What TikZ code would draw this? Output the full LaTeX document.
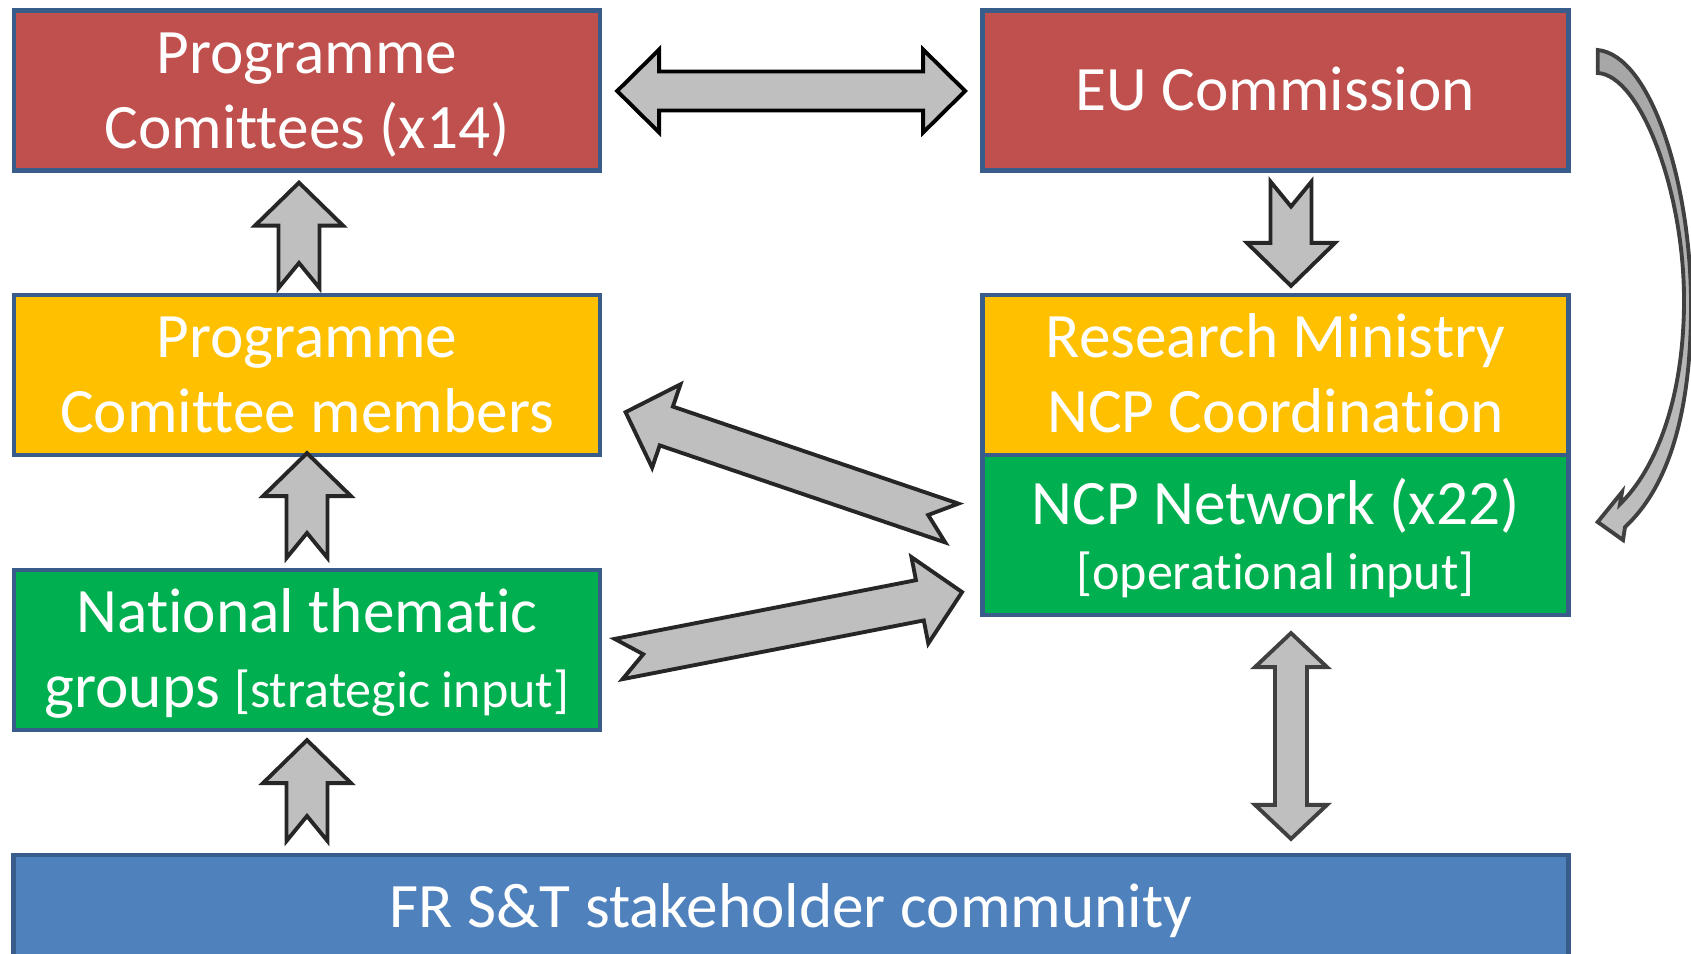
\documentclass[tikz,border=0pt]{standalone}
\usepackage{fontspec}
\setmainfont{Carlito}[Ligatures=NoCommon]
\usetikzlibrary{calc}

\definecolor{boxred}{HTML}{C0504D}
\definecolor{boxyellow}{HTML}{FFC000}
\definecolor{boxgreen}{HTML}{00B050}
\definecolor{boxblue}{HTML}{4F81BD}
\definecolor{boxline}{HTML}{385D8A}
\definecolor{arrowgray}{HTML}{BFBFBF}
\definecolor{arrowline}{HTML}{262626}
\definecolor{curveline}{HTML}{404040}
\definecolor{curvedark}{HTML}{A6A6A6}

\newcommand{\notefont}{\fontsize{14.8}{18.4}\selectfont}
% one text line, as tall as the slide's line
\newcommand{\lstrut}{\rule[-0.272em]{0pt}{1.183em}}

% direction and length (in px) from #1 to #2
\newcommand{\getdir}[2]{%
	\path #1 coordinate (ba-s) #2 coordinate (ba-e);
	\path let \p1=(ba-s), \p2=(ba-e) in \pgfextra{%
		\pgfmathsetmacro\tmpang{atan2(\y2-\y1,\x2-\x1)}%
		\pgfmathsetmacro\tmplen{veclen(\x2-\x1,\y2-\y1)/0.284528}%
		\xdef\baang{\tmpang}\xdef\balen{\tmplen}};%
}
% block arrow with notched tail
\newcommand{\notcharrow}[3][]{%
	\getdir{#2}{#3}%
	\begin{scope}[shift={(ba-s)}, rotate=\baang, x=0.01cm, y=0.01cm]
		\draw [blockarrow, #1] (0,-20.5) -- (\balen-43,-20.5) -- (\balen-43,-44) -- (\balen,0) -- (\balen-43,44) -- (\balen-43,20.5) -- (0,20.5) -- (25,0) -- cycle;
	\end{scope}}
% block arrow with two heads: shaft, head, head length
\newcommand{\dblarrow}[6][]{%
	\getdir{#2}{#3}%
	\begin{scope}[shift={(ba-s)}, rotate=\baang, x=0.01cm, y=0.01cm]
		\draw [blockarrow, #1] (0,0) -- (#6,#5) -- (#6,#4) -- (\balen-#6,#4) -- (\balen-#6,#5) -- (\balen,0) -- (\balen-#6,-#5) -- (\balen-#6,-#4) -- (#6,-#4) -- (#6,-#5) -- cycle;
	\end{scope}}

\begin{document}
\begin{tikzpicture}[x=0.01cm, y=-0.01cm,
		box/.style={draw=boxline, line width=1.3pt, outer sep=0pt, inner sep=0pt, text=white, align=center, font=\fontsize{18}{21.3}\selectfont, minimum width=5.86cm, minimum height=1.6cm},
		blockarrow/.style={draw=arrowline, fill=arrowgray, line width=1.1pt}]
		\useasboundingbox (0,0) rectangle (1691,953);
		%top
			\node [box, fill=boxred] (pc) at (307,90.5) {\lstrut Programme\\\lstrut Comittees (x14)};
			\node [box, fill=boxred] (eu) at (1275.5,90.5) {\lstrut EU Commission};
		%middle
			\node [box, fill=boxyellow] (pcm) at (307,375) {\lstrut Programme\\\lstrut Comittee members};
			\node [box, fill=boxyellow] (rm) at (1275.5,375) {\lstrut Research Ministry\\\lstrut NCP Coordination};
			\node [box, fill=boxgreen] (ncp) at (1275.5,535) {\lstrut NCP Network (x22)\\[-2.9pt]{\notefont\lstrut [operational input]}};
			\node [box, fill=boxgreen] (ntg) at (307,650) {\lstrut National thematic\\\lstrut groups {\notefont [strategic input]}};
		%bottom
			\node [box, fill=boxblue, minimum width=15.54cm, minimum height=1.05cm] (fr) at (791,907.5) {\lstrut FR S\&T stakeholder community};
		%left column
			\notcharrow{($(pcm.north)+(-8,-7)$)}{($(pc.south)+(-8,12)$)}
			\notcharrow{($(ntg.north)+(0,-12)$)}{($(pcm.south)+(0,-2)$)}
			\notcharrow{($(ntg.south |- fr.north)+(0,-14)$)}{($(ntg.south)+(0,10)$)}
		%right column
			\notcharrow{($(eu.south)+(15.5,11)$)}{($(rm.north)+(15.5,-9)$)}
			\dblarrow[draw=curveline]{($(ncp.south)+(15.5,18)$)}{($(ncp.south |- fr.north)+(15.5,-16)$)}{16}{36}{34}
		%across
			\dblarrow[draw=black]{($(pc.east)+(17,0.5)$)}{($(eu.west)+(-17,0.5)$)}{19.5}{41.5}{42}
			\notcharrow{($(ncp.west)+(-30.5,-12)$)}{($(pcm.east)+(25,37)$)}
			\notcharrow{($(ntg.east)+(18.5,9)$)}{($(ncp.west)+(-20,57)$)}
		%curved arrow
			\coordinate (ctail) at ($(eu.east)+(29,-29)$);
			\coordinate (chead) at ($(ncp.east)+(29,-13)$);
			\draw [blockarrow, draw=curveline, top color=curvedark, bottom color=arrowgray] ($(ctail)+(0,-11.5)$) .. controls (1650,55) and (1690,180) .. (1691,300) .. controls (1692,420) and (1665,490) .. (1625,527) -- (1623,540) -- (chead) -- (1622,492) -- (1620,504) .. controls (1655,470) and (1684,400) .. (1684,300) .. controls (1684,190) and (1640,75) .. ($(ctail)+(0,11.5)$) -- cycle;
\end{tikzpicture}
\end{document}
